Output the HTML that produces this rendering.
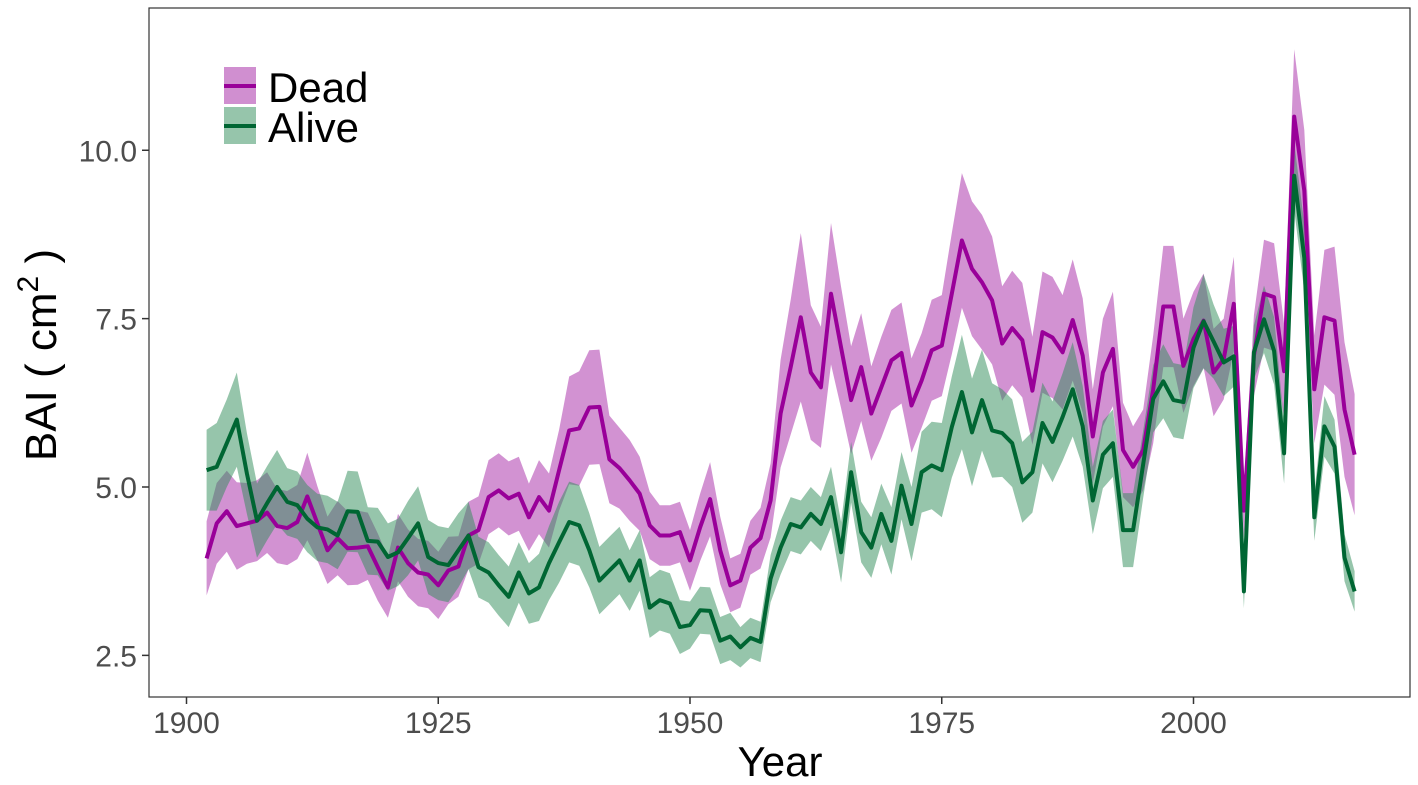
<!DOCTYPE html>
<html><head><meta charset="utf-8"><style>
html,body{margin:0;padding:0;background:#fff;}
svg{display:block;font-family:"Liberation Sans",sans-serif;}
</style></head><body>
<svg id="chart" width="1418" height="785" viewBox="0 0 1418 785">
<rect x="0" y="0" width="1418" height="785" fill="#fff"/>
<g id="plot"></g>
<rect x="149" y="8" width="1261" height="689" fill="none" stroke="#333" stroke-width="1.2"/>
<g id="axes"></g>
<text x="780" y="776" font-size="42" text-anchor="middle" fill="#000">Year</text>
<text transform="translate(56,355) rotate(-90)" font-size="44" text-anchor="middle" fill="#000">BAI ( cm<tspan font-size="30" dy="-18">2</tspan><tspan dy="18"> )</tspan></text>
<g>
<g>
<rect x="224" y="67" width="32" height="37" fill="#d08fd0"/>
<line x1="224" y1="86" x2="256" y2="86" stroke="#990099" stroke-width="4"/>
<text x="268" y="102" font-size="42" fill="#000">Dead</text></g>
<g>
<rect x="224" y="107" width="32" height="37" fill="#96c5ab"/>
<line x1="224" y1="126" x2="256" y2="126" stroke="#006633" stroke-width="4"/>
<text x="268" y="142" font-size="42" fill="#000">Alive</text></g>
</g>
</svg>
<script>
const startYear = 1902;
const deadMean = [3.94,4.46,4.64,4.42,4.46,4.5,4.62,4.42,4.39,4.48,
4.86,4.46,4.06,4.24,4.09,4.1,4.12,3.81,3.51,4.1,
3.87,3.73,3.7,3.54,3.76,3.82,4.28,4.36,4.85,4.95,
4.83,4.9,4.55,4.85,4.65,5.25,5.84,5.87,6.18,6.19,
5.41,5.28,5.1,4.9,4.43,4.28,4.28,4.33,3.91,4.4,
4.82,4.06,3.54,3.61,4.1,4.24,4.8,6.09,6.78,7.52,
6.7,6.48,7.87,7.07,6.29,6.78,6.09,6.48,6.88,6.99,
6.21,6.58,7.03,7.1,7.87,8.66,8.24,8.04,7.77,7.13,
7.36,7.18,6.43,7.3,7.22,7.0,7.48,6.95,5.75,6.7,
7.05,5.55,5.3,5.55,6.45,7.68,7.68,6.8,7.2,7.47,
6.7,6.9,7.72,4.65,6.95,7.87,7.82,6.72,10.5,9.4,
6.45,7.52,7.47,6.15,5.48];
const deadSE = [0.55,0.6,0.6,0.65,0.6,0.6,0.6,0.55,0.55,0.55,
0.65,0.55,0.5,0.55,0.55,0.55,0.5,0.5,0.45,0.5,
0.5,0.5,0.5,0.5,0.5,0.45,0.5,0.5,0.55,0.55,
0.55,0.55,0.5,0.55,0.55,0.6,0.8,0.85,0.85,0.85,
0.65,0.6,0.6,0.55,0.5,0.45,0.45,0.45,0.45,0.5,
0.55,0.5,0.4,0.4,0.4,0.45,0.55,0.8,1.0,1.25,
1.0,0.9,1.05,0.9,0.8,0.8,0.7,0.75,0.75,0.75,
0.7,0.7,0.75,0.75,0.9,1.0,1.0,1.0,0.95,0.85,
0.85,0.85,0.8,0.9,0.9,0.85,0.9,0.85,0.7,0.8,
0.85,0.7,0.6,0.6,0.8,0.9,0.9,0.7,0.7,0.7,
0.65,0.6,0.7,0.4,0.6,0.8,0.8,0.7,1.0,0.9,
0.8,1.0,1.1,1.0,0.9];
const aliveMean = [5.25,5.3,5.65,6.0,5.2,4.5,4.76,5.0,4.78,4.73,
4.53,4.4,4.37,4.28,4.64,4.63,4.2,4.19,3.96,4.03,
4.24,4.46,3.96,3.87,3.84,4.06,4.28,3.81,3.73,3.54,
3.37,3.73,3.42,3.51,3.87,4.18,4.48,4.43,4.06,3.61,
3.76,3.91,3.61,3.91,3.21,3.32,3.27,2.92,2.95,3.17,
3.16,2.72,2.78,2.62,2.76,2.7,3.64,4.1,4.45,4.4,
4.6,4.45,4.85,4.03,5.22,4.33,4.1,4.6,4.2,5.02,
4.45,5.22,5.32,5.25,5.89,6.41,5.81,6.29,5.84,5.8,
5.65,5.07,5.22,5.95,5.67,6.04,6.45,5.9,4.8,5.48,
5.65,4.36,4.36,5.34,6.31,6.57,6.29,6.26,7.07,7.46,
7.16,6.85,6.94,3.45,7.0,7.49,7.02,5.5,9.62,8.4,
4.55,5.9,5.6,3.95,3.45];
const aliveSE = [0.6,0.65,0.65,0.7,0.6,0.55,0.55,0.55,0.5,0.5,
0.5,0.5,0.5,0.5,0.6,0.6,0.5,0.5,0.5,0.5,
0.55,0.55,0.55,0.55,0.55,0.55,0.5,0.45,0.45,0.45,
0.45,0.45,0.45,0.5,0.55,0.6,0.6,0.6,0.55,0.5,
0.5,0.5,0.45,0.45,0.45,0.45,0.45,0.4,0.35,0.35,
0.35,0.35,0.35,0.3,0.3,0.3,0.35,0.4,0.4,0.4,
0.4,0.4,0.45,0.45,0.45,0.45,0.45,0.45,0.5,0.5,
0.55,0.6,0.65,0.7,0.75,0.85,0.8,0.75,0.7,0.65,
0.65,0.6,0.6,0.6,0.6,0.65,0.7,0.6,0.5,0.5,
0.5,0.55,0.55,0.5,0.5,0.55,0.55,0.55,0.6,0.7,
0.55,0.5,0.45,0.25,0.4,0.5,0.5,0.45,0.5,0.5,
0.35,0.45,0.4,0.35,0.3];
const xTicks = [1900,1925,1950,1975,2000];
const yTicks = [2.5,5.0,7.5,10.0];

const X = yr => 186.5 + (yr - 1900) * 10.07;
const Y = v => 487 - (v - 5) * 67.35;
const NS = 'http://www.w3.org/2000/svg';
const plot = document.getElementById('plot');
const axes = document.getElementById('axes');

function ribbon(mean, se, fill, name) {
  let up = [], lo = [];
  mean.forEach((m, i) => {
    up.push(X(startYear + i).toFixed(1) + ',' + Y(m + se[i]).toFixed(1));
    lo.unshift(X(startYear + i).toFixed(1) + ',' + Y(m - se[i]).toFixed(1));
  });
  const p = document.createElementNS(NS, 'polygon');
  p.setAttribute('points', up.concat(lo).join(' '));
  p.setAttribute('fill', fill);
  p.setAttribute('fill-opacity', '0.5');
  
  
  plot.appendChild(p);
}
function line(mean, color, name) {
  const pts = mean.map((m, i) => X(startYear + i).toFixed(1) + ',' + Y(m).toFixed(1));
  const p = document.createElementNS(NS, 'polyline');
  p.setAttribute('points', pts.join(' '));
  p.setAttribute('fill', 'none');
  p.setAttribute('stroke', color);
  p.setAttribute('stroke-width', '4');
  p.setAttribute('stroke-linejoin', 'round');
  
  
  plot.appendChild(p);
}
ribbon(deadMean, deadSE, '#a626a6', 'dead-ribbon');
ribbon(aliveMean, aliveSE, '#2e8b57', 'alive-ribbon');
line(deadMean, '#990099', 'dead-line');
line(aliveMean, '#006633', 'alive-line');

xTicks.forEach(t => {
  const l = document.createElementNS(NS, 'line');
  l.setAttribute('x1', X(t)); l.setAttribute('x2', X(t));
  l.setAttribute('y1', 697); l.setAttribute('y2', 704);
  l.setAttribute('stroke', '#333'); l.setAttribute('stroke-width', '1.5');
  
  
  axes.appendChild(l);
  const tx = document.createElementNS(NS, 'text');
  tx.setAttribute('x', X(t)); tx.setAttribute('y', 733);
  tx.setAttribute('font-size', '30'); tx.setAttribute('fill', '#4d4d4d');
  tx.setAttribute('text-anchor', 'middle');
  tx.textContent = t;
  
  
  axes.appendChild(tx);
});
yTicks.forEach(t => {
  const l = document.createElementNS(NS, 'line');
  l.setAttribute('x1', 142); l.setAttribute('x2', 149);
  l.setAttribute('y1', Y(t)); l.setAttribute('y2', Y(t));
  l.setAttribute('stroke', '#333'); l.setAttribute('stroke-width', '1.5');
  
  
  axes.appendChild(l);
  const tx = document.createElementNS(NS, 'text');
  tx.setAttribute('x', 137); tx.setAttribute('y', Y(t) + 11);
  tx.setAttribute('font-size', '30'); tx.setAttribute('fill', '#4d4d4d');
  tx.setAttribute('text-anchor', 'end');
  tx.textContent = t.toFixed(1);
  
  
  axes.appendChild(tx);
});
</script>
</body></html>
